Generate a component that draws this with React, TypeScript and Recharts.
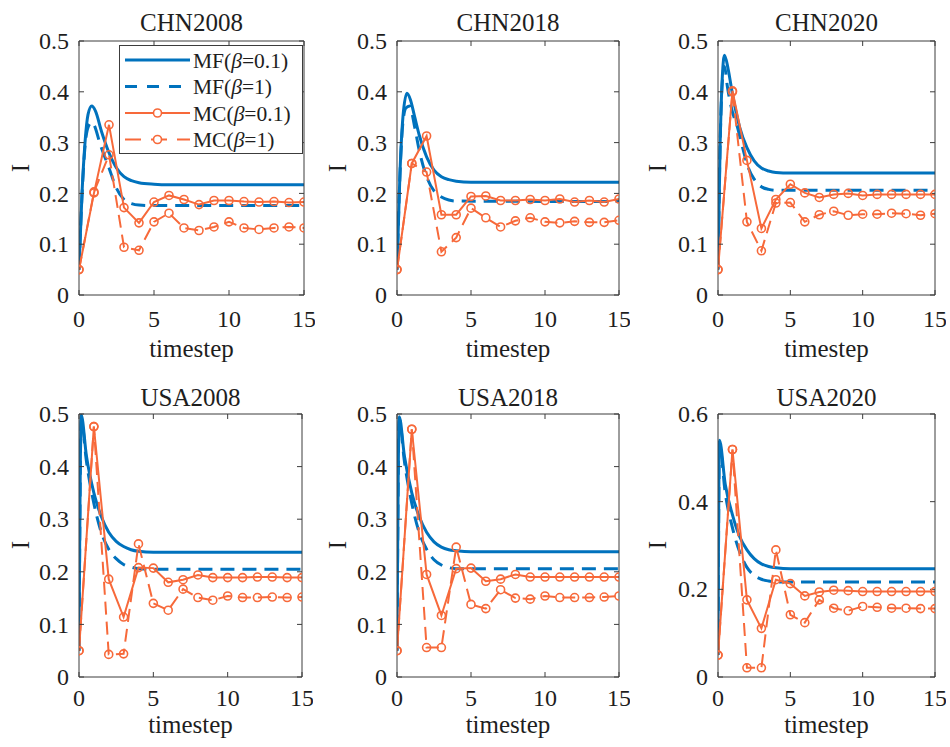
import React from 'react';
import { LineChart, Line, XAxis, YAxis } from 'recharts';

const FONT = '"Liberation Serif", "Times New Roman", Times, serif';
const BLUE = '#0072BD';
const ORANGE = '#F7693A';
const AXIS = '#3c3c3c';
const TEXT = '#1e1e1e';

// ---------- shared ticks / categories ----------
const MC_T = [0, 1, 2, 3, 4, 5, 6, 7, 8, 9, 10, 11, 12, 13, 14, 15];
const X_TICKS = [0, 5, 10, 15];
const Y_TICKS_05 = [0, 0.1, 0.2, 0.3, 0.4, 0.5];
const Y_TICKS_06 = [0, 0.2, 0.4, 0.6];
const TITLES = ['CHN2008', 'CHN2018', 'CHN2020', 'USA2008', 'USA2018', 'USA2020'];
const LEGEND_NAMES = ['MF', 'MF', 'MC', 'MC'];
const LEGEND_BETAS = ['0.1', '1', '0.1', '1'];

// ---------- CHN2008 ----------
const CHN2008_MF01_T = [0, 0.2, 0.4, 0.6, 0.85, 1.1, 1.5, 2, 2.5, 3, 3.5, 4, 5, 6, 15];
const CHN2008_MF01_V = [0.05, 0.2, 0.3, 0.355, 0.372, 0.362, 0.322, 0.28, 0.25, 0.233, 0.225, 0.221, 0.218, 0.217, 0.217];
const CHN2008_MF1_T = [0, 0.2, 0.4, 0.6, 0.85, 1.0, 1.4, 2, 2.5, 3, 3.5, 4, 5, 15];
const CHN2008_MF1_V = [0.05, 0.195, 0.292, 0.33, 0.34, 0.335, 0.298, 0.25, 0.21, 0.188, 0.18, 0.177, 0.176, 0.176];
const CHN2008_MC01 = [0.05, 0.201, 0.335, 0.172, 0.142, 0.183, 0.196, 0.188, 0.178, 0.186, 0.186, 0.184, 0.183, 0.184, 0.182, 0.183];
const CHN2008_MC1 = [0.05, 0.203, 0.276, 0.094, 0.088, 0.144, 0.161, 0.132, 0.127, 0.134, 0.144, 0.132, 0.129, 0.132, 0.134, 0.132];

// ---------- CHN2018 ----------
const CHN2018_MF01_T = [0, 0.2, 0.4, 0.67, 0.9, 1.2, 1.5, 2, 2.5, 3, 3.5, 4, 5, 15];
const CHN2018_MF01_V = [0.05, 0.24, 0.35, 0.397, 0.385, 0.35, 0.315, 0.272, 0.246, 0.233, 0.227, 0.224, 0.222, 0.222];
const CHN2018_MF1_T = [0, 0.2, 0.4, 0.6, 0.85, 1.2, 1.5, 2, 2.5, 3, 3.5, 4, 15];
const CHN2018_MF1_V = [0.05, 0.235, 0.34, 0.368, 0.372, 0.33, 0.285, 0.233, 0.205, 0.193, 0.187, 0.185, 0.184];
const CHN2018_MC01 = [0.05, 0.259, 0.313, 0.158, 0.158, 0.194, 0.195, 0.186, 0.186, 0.188, 0.186, 0.189, 0.183, 0.186, 0.183, 0.189];
const CHN2018_MC1 = [0.05, 0.259, 0.242, 0.085, 0.113, 0.171, 0.152, 0.134, 0.146, 0.152, 0.144, 0.142, 0.145, 0.143, 0.143, 0.147];

// ---------- CHN2020 ----------
const CHN2020_MF01_T = [0, 0.15, 0.3, 0.45, 0.7, 1, 1.5, 2, 2.5, 3, 3.5, 4, 5, 15];
const CHN2020_MF01_V = [0.05, 0.3, 0.43, 0.472, 0.445, 0.395, 0.33, 0.29, 0.264, 0.25, 0.244, 0.241, 0.24, 0.24];
const CHN2020_MF1_T = [0, 0.15, 0.3, 0.45, 0.65, 1, 1.3, 1.7, 2.1, 2.5, 3, 3.5, 4, 15];
const CHN2020_MF1_V = [0.05, 0.3, 0.42, 0.45, 0.41, 0.36, 0.335, 0.29, 0.25, 0.228, 0.213, 0.208, 0.206, 0.206];
const CHN2020_MC01 = [0.05, 0.402, 0.265, 0.131, 0.188, 0.218, 0.201, 0.192, 0.198, 0.2, 0.196, 0.198, 0.198, 0.198, 0.198, 0.198];
const CHN2020_MC1 = [0.05, 0.4, 0.144, 0.087, 0.181, 0.182, 0.144, 0.158, 0.165, 0.157, 0.159, 0.159, 0.161, 0.16, 0.157, 0.16];

// ---------- USA2008 ----------
const USA2008_MF01_T = [0, 0.15, 0.5, 1, 1.5, 2, 2.5, 3, 3.5, 4, 5, 6, 15];
const USA2008_MF01_V = [0.05, 0.498, 0.42, 0.35, 0.305, 0.275, 0.258, 0.248, 0.242, 0.239, 0.237, 0.237, 0.237];
const USA2008_MF1_T = [0, 0.15, 0.5, 1, 1.5, 2, 2.5, 3, 3.5, 4, 5, 15];
const USA2008_MF1_V = [0.05, 0.49, 0.41, 0.33, 0.275, 0.243, 0.225, 0.214, 0.209, 0.206, 0.205, 0.205];
const USA2008_MC01 = [0.05, 0.476, 0.186, 0.114, 0.208, 0.207, 0.18, 0.185, 0.194, 0.189, 0.189, 0.189, 0.19, 0.19, 0.189, 0.189];
const USA2008_MC1 = [0.05, 0.476, 0.043, 0.044, 0.253, 0.14, 0.127, 0.167, 0.151, 0.146, 0.154, 0.151, 0.151, 0.152, 0.151, 0.152];

// ---------- USA2018 ----------
const USA2018_MF01_T = [0, 0.15, 0.5, 1, 1.5, 2, 2.5, 3, 3.5, 4, 5, 6, 15];
const USA2018_MF01_V = [0.05, 0.495, 0.42, 0.35, 0.305, 0.275, 0.257, 0.247, 0.242, 0.24, 0.238, 0.238, 0.238];
const USA2018_MF1_T = [0, 0.15, 0.5, 1, 1.5, 2, 2.5, 3, 3.5, 4, 15];
const USA2018_MF1_V = [0.05, 0.49, 0.41, 0.33, 0.275, 0.243, 0.223, 0.213, 0.208, 0.206, 0.206];
const USA2018_MC01 = [0.05, 0.471, 0.195, 0.117, 0.206, 0.207, 0.182, 0.186, 0.195, 0.19, 0.19, 0.19, 0.19, 0.19, 0.19, 0.19];
const USA2018_MC1 = [0.05, 0.471, 0.056, 0.056, 0.247, 0.138, 0.13, 0.166, 0.15, 0.148, 0.154, 0.151, 0.151, 0.151, 0.152, 0.154];

// ---------- USA2020 ----------
const USA2020_MF01_T = [0, 0.1, 0.5, 1, 1.5, 2, 2.5, 3, 3.5, 4, 5, 6, 15];
const USA2020_MF01_V = [0.05, 0.54, 0.44, 0.37, 0.32, 0.29, 0.27, 0.258, 0.252, 0.249, 0.247, 0.247, 0.247];
const USA2020_MF1_T = [0, 0.1, 0.5, 1, 1.5, 2, 2.5, 3, 3.5, 4, 15];
const USA2020_MF1_V = [0.05, 0.53, 0.42, 0.34, 0.285, 0.25, 0.232, 0.223, 0.219, 0.217, 0.217];
const USA2020_MC01 = [0.05, 0.519, 0.176, 0.111, 0.222, 0.213, 0.185, 0.194, 0.198, 0.197, 0.195, 0.195, 0.195, 0.195, 0.195, 0.195];
const USA2020_MC1 = [0.05, 0.519, 0.021, 0.021, 0.29, 0.142, 0.124, 0.176, 0.157, 0.151, 0.161, 0.159, 0.157, 0.157, 0.156, 0.156];

const pts = (ts: number[], vs: number[]) => ts.map((t, i) => ({ t, v: vs[i] }));

type PanelCfg = {
  title: string;
  left: number; right: number; top: number; bottom: number;
  yMax: number; yTicks: number[];
  xTickMargin: number;
  labelY: number; titleY: number; timestepTop: number; iX: number;
  mf01: { t: number; v: number }[];
  mf1: { t: number; v: number }[];
  mc01: { t: number; v: number }[];
  mc1: { t: number; v: number }[];
  legend?: boolean;
};

const TOP = { top: 41, bottom: 295, xTickMargin: 20, titleY: 22, timestepTop: 336 };
const BOT = { top: 414, bottom: 677, xTickMargin: 17, titleY: 397, timestepTop: 712 };

const PANELS: PanelCfg[] = [
  { title: TITLES[0], left: 79, right: 304, ...TOP, yMax: 0.5, yTicks: Y_TICKS_05, labelY: 168, iX: 20,
    mf01: pts(CHN2008_MF01_T, CHN2008_MF01_V), mf1: pts(CHN2008_MF1_T, CHN2008_MF1_V),
    mc01: pts(MC_T, CHN2008_MC01), mc1: pts(MC_T, CHN2008_MC1), legend: true },
  { title: TITLES[1], left: 397, right: 619, ...TOP, yMax: 0.5, yTicks: Y_TICKS_05, labelY: 168, iX: 337,
    mf01: pts(CHN2018_MF01_T, CHN2018_MF01_V), mf1: pts(CHN2018_MF1_T, CHN2018_MF1_V),
    mc01: pts(MC_T, CHN2018_MC01), mc1: pts(MC_T, CHN2018_MC1) },
  { title: TITLES[2], left: 718, right: 935, ...TOP, yMax: 0.5, yTicks: Y_TICKS_05, labelY: 168, iX: 657,
    mf01: pts(CHN2020_MF01_T, CHN2020_MF01_V), mf1: pts(CHN2020_MF1_T, CHN2020_MF1_V),
    mc01: pts(MC_T, CHN2020_MC01), mc1: pts(MC_T, CHN2020_MC1) },
  { title: TITLES[3], left: 79, right: 302, ...BOT, yMax: 0.5, yTicks: Y_TICKS_05, labelY: 545, iX: 20,
    mf01: pts(USA2008_MF01_T, USA2008_MF01_V), mf1: pts(USA2008_MF1_T, USA2008_MF1_V),
    mc01: pts(MC_T, USA2008_MC01), mc1: pts(MC_T, USA2008_MC1) },
  { title: TITLES[4], left: 397, right: 619, ...BOT, yMax: 0.5, yTicks: Y_TICKS_05, labelY: 545, iX: 337,
    mf01: pts(USA2018_MF01_T, USA2018_MF01_V), mf1: pts(USA2018_MF1_T, USA2018_MF1_V),
    mc01: pts(MC_T, USA2018_MC01), mc1: pts(MC_T, USA2018_MC1) },
  { title: TITLES[5], left: 718, right: 935, ...BOT, yMax: 0.6, yTicks: Y_TICKS_06, labelY: 545, iX: 657,
    mf01: pts(USA2020_MF01_T, USA2020_MF01_V), mf1: pts(USA2020_MF1_T, USA2020_MF1_V),
    mc01: pts(MC_T, USA2020_MC01), mc1: pts(MC_T, USA2020_MC1) },
];

const dotStyle = { r: 4, stroke: ORANGE, strokeWidth: 1.6, fill: 'none', strokeDasharray: 'none' };

function BottomTick(props: any) {
  const { x, y, payload } = props;
  return (
    <text x={x} y={y} dy="0.71em" textAnchor="middle" fontFamily={FONT} fontSize={24} fill={TEXT}
      style={{ fontFamily: FONT }}>
      {String(payload.value)}
    </text>
  );
}

function LeftTick(props: any) {
  const { x, y, payload } = props;
  return (
    <text x={x} y={y} dy="0.34em" textAnchor="end" fontFamily={FONT} fontSize={24} fill={TEXT}
      style={{ fontFamily: FONT }}>
      {String(payload.value)}
    </text>
  );
}

function NoTick() {
  return <g />;
}

function Panel({ p }: { p: PanelCfg }) {
  const padL = 70, padT = 20, padR = 10, padB = 50;
  const w = p.right - p.left;
  const h = p.bottom - p.top;
  return (
    <div style={{ position: 'absolute', left: p.left - padL, top: p.top - padT - 1 }}>
      <LineChart
        width={w + padL + padR + 1}
        height={h + padT + 1 + padB}
        margin={{ top: padT, right: padR, bottom: 0, left: 0 }}
        style={{ fontFamily: FONT }}
      >
        <XAxis xAxisId="b" type="number" dataKey="t" domain={[0, 15]} ticks={X_TICKS} interval={0}
          allowDataOverflow orientation="bottom" height={padB} tickSize={-5} tickMargin={p.xTickMargin}
          stroke={AXIS} tick={<BottomTick />} />
        <XAxis xAxisId="t" type="number" dataKey="t" domain={[0, 15]} ticks={X_TICKS} interval={0}
          allowDataOverflow orientation="top" height={1} tickSize={-5} tick={<NoTick />} stroke={AXIS} />
        <YAxis yAxisId="l" type="number" domain={[0, p.yMax]} ticks={p.yTicks} interval={0}
          allowDataOverflow orientation="left" width={padL} tickSize={-5} tickMargin={15}
          stroke={AXIS} tick={<LeftTick />} />
        <YAxis yAxisId="r" type="number" domain={[0, p.yMax]} ticks={p.yTicks} interval={0}
          allowDataOverflow orientation="right" width={1} tickSize={-5} tick={<NoTick />} stroke={AXIS} />
        <Line xAxisId="b" yAxisId="l" data={p.mf01} dataKey="v" type="monotone" stroke={BLUE}
          strokeWidth={3} dot={false} isAnimationActive={false} />
        <Line xAxisId="b" yAxisId="l" data={p.mf1} dataKey="v" type="monotone" stroke={BLUE}
          strokeWidth={3} strokeDasharray="14 8" dot={false} isAnimationActive={false} />
        <Line xAxisId="b" yAxisId="l" data={p.mc01} dataKey="v" type="linear" stroke={ORANGE}
          strokeWidth={2} dot={dotStyle} isAnimationActive={false} />
        <Line xAxisId="b" yAxisId="l" data={p.mc1} dataKey="v" type="linear" stroke={ORANGE}
          strokeWidth={2} strokeDasharray="13 7" dot={dotStyle} isAnimationActive={false} />
      </LineChart>
    </div>
  );
}

function Legend() {
  const rows = [0, 1, 2, 3];
  const ys = [15, 41.5, 68, 94.5];
  return (
    <svg style={{ position: 'absolute', left: 119, top: 45 }} width={184} height={109}>
      <rect x={0.5} y={0.5} width={183} height={108} fill="#ffffff" stroke={AXIS} strokeWidth={1} />
      {rows.map((i) => {
        const y = ys[i];
        const isMF = i < 2;
        const dashed = i % 2 === 1;
        return (
          <g key={i}>
            <line x1={6} x2={71} y1={y} y2={y}
              stroke={isMF ? BLUE : ORANGE}
              strokeWidth={isMF ? 3 : 2}
              strokeDasharray={dashed ? (isMF ? '12 10' : '16 10') : undefined} />
            {!isMF && <circle cx={38.5} cy={y} r={4} fill="#ffffff" stroke={ORANGE} strokeWidth={1.6} />}
            <text x={74} y={y + 7.5} fontFamily={FONT} fontSize={21.5} fill={TEXT} style={{ fontFamily: FONT }}>
              {LEGEND_NAMES[i]}(<tspan fontStyle="italic">β</tspan>={LEGEND_BETAS[i]})
            </text>
          </g>
        );
      })}
    </svg>
  );
}

export default function App() {
  const txt: React.CSSProperties = {
    position: 'absolute', fontFamily: FONT, fontSize: 25, lineHeight: 1, color: TEXT, whiteSpace: 'nowrap',
  };
  return (
    <div style={{ position: 'absolute', left: 0, top: 0, width: 950, height: 747, background: '#ffffff', overflow: 'hidden', fontFamily: FONT }}>
      {PANELS.map((p) => (
        <Panel key={p.title} p={p} />
      ))}
      {PANELS.map((p) => (
        <React.Fragment key={p.title + '-txt'}>
          <div style={{ ...txt, left: (p.left + p.right) / 2, top: p.titleY, transform: 'translate(-50%, -50%)' }}>
            {p.title}
          </div>
          <div style={{ ...txt, left: (p.left + p.right) / 2, top: p.timestepTop, transform: 'translateX(-50%)' }}>
            timestep
          </div>
          <div style={{ ...txt, left: p.iX, top: p.labelY, transform: 'translate(-50%, -50%) rotate(-90deg)' }}>
            I
          </div>
        </React.Fragment>
      ))}
      <Legend />
    </div>
  );
}
